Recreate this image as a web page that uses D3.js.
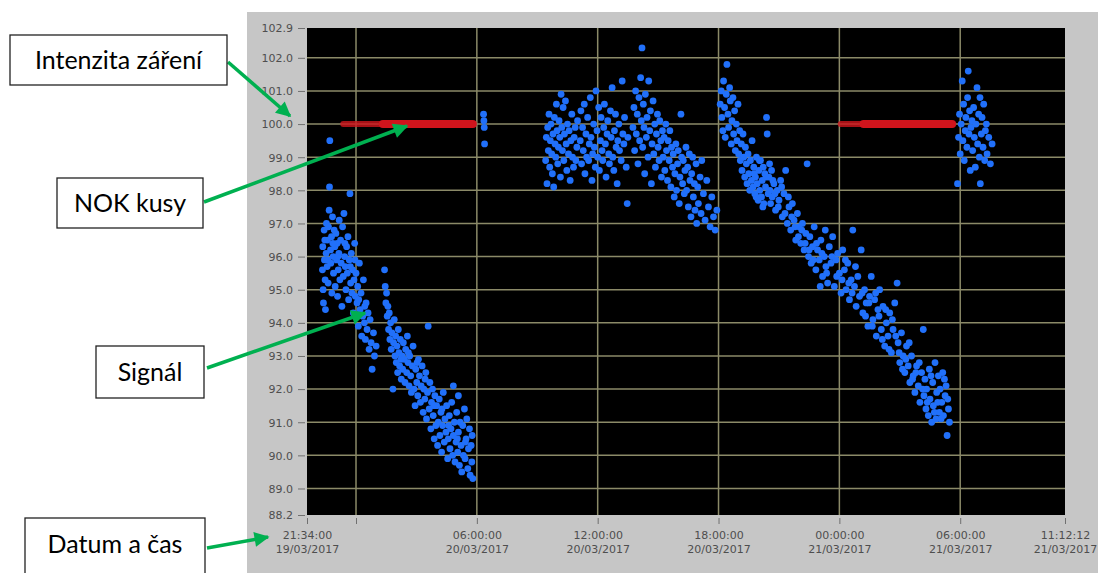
<!DOCTYPE html>
<html>
<head>
<meta charset="utf-8">
<script src="https://cdn.jsdelivr.net/npm/d3@7"></script>
<style>
  body { margin: 0; background: #fff; }
  svg { display: block; }
  .tick text { font-family: "DejaVu Sans", Verdana, sans-serif; font-size: 11px; fill: #4e4e4e; }
  .tick line { stroke: #707070; }
  .domain { display: none; }
  .note text { font-family: Lato, "Open Sans", sans-serif; font-size: 25px; fill: #000; }
</style>
</head>
<body>
<div id="chart"></div>
<script>
// signal readings, "dd HH:MM" in 03/2017, value
var night19 = [
  ["19 22:20",95.6],["19 22:21",96.3],["19 22:22",95.0],["19 22:23",94.6],["19 22:25",96.8],["19 22:26",95.9],
  ["19 22:28",95.3],["19 22:29",94.4],["19 22:31",96.1],["19 22:32",97.0],["19 22:34",95.7],["19 22:35",96.5],
  ["19 22:37",95.2],["19 22:38",96.9],["19 22:40",97.4],["19 22:41",98.1],["19 22:42",99.5],["19 22:44",96.2],
  ["19 22:45",95.8],["19 22:47",96.6],["19 22:48",94.9],["19 22:50",97.2],["19 22:52",96.0],["19 22:53",95.5],
  ["19 22:55",96.8],["19 22:57",96.3],["19 22:58",95.1],["19 23:00",96.7],["19 23:02",95.9],["19 23:04",96.4],
  ["19 23:05",94.8],["19 23:07",95.6],["19 23:09",96.1],["19 23:10",97.1],["19 23:12",95.3],["19 23:14",96.5],
  ["19 23:16",95.8],["19 23:18",94.5],["19 23:20",96.9],["19 23:22",95.4],["19 23:24",97.3],["19 23:26",96.0],
  ["19 23:28",95.7],["19 23:30",95.0],["19 23:32",96.3],["19 23:34",95.5],["19 23:36",96.6],["19 23:38",94.7],
  ["19 23:40",95.9],["19 23:42",97.9],["19 23:44",95.2],["19 23:46",96.1],["19 23:48",94.9],["19 23:50",95.6],
  ["19 23:52",94.3],["19 23:54",95.3],["19 23:56",96.4],["19 23:58",94.8],
  ["19 22:27",96.5],["19 22:36",95.9],["19 22:51",96.4],["19 23:06",96.0],["19 23:27",96.4],["19 23:43",95.7],
  ["19 23:57",95.9],
  ["20 00:00",95.5],["20 00:03",94.6],["20 00:05",95.1],["20 00:07",93.9],["20 00:10",95.8],["20 00:12",94.4],
  ["20 00:15",94.9],["20 00:17",93.6],["20 00:20",94.2],["20 00:22",95.3],["20 00:25",94.0],["20 00:28",93.5],
  ["20 00:30",94.6],["20 00:33",93.8],["20 00:36",94.3],["20 00:39",93.2],["20 00:42",94.1],["20 00:45",93.4],
  ["20 00:48",92.6],["20 00:52",93.7],["20 00:55",93.0],["20 01:00",93.3],["20 00:08",94.7],["20 00:26",94.5]
];
var night20 = [
  ["20 01:25",95.6],["20 01:27",95.1],["20 01:29",94.6],["20 01:31",94.9],["20 01:33",94.2],["20 01:35",94.5],
  ["20 01:37",93.8],["20 01:39",94.3],["20 01:41",93.5],["20 01:43",94.0],["20 01:45",93.2],["20 01:47",93.7],
  ["20 01:50",92.0],["20 01:52",93.4],["20 01:54",94.1],["20 01:56",93.0],["20 01:58",93.6],["20 02:00",92.8],
  ["20 02:02",93.3],["20 02:04",92.5],["20 02:06",93.8],["20 02:08",93.1],["20 02:10",92.7],["20 02:12",93.5],
  ["20 02:15",92.3],["20 02:17",93.0],["20 02:19",92.6],["20 02:21",93.4],["20 02:24",92.9],["20 02:26",92.2],
  ["20 02:28",93.2],["20 02:31",92.5],["20 02:33",93.6],["20 02:35",92.8],["20 02:38",92.1],["20 02:40",93.0],
  ["20 02:43",92.4],["20 02:45",91.9],["20 02:48",92.7],["20 02:50",93.3],["20 02:53",92.0],["20 02:56",91.5],
  ["20 02:58",92.6],["20 03:01",92.2],["20 03:04",91.8],["20 03:06",92.9],["20 03:09",92.4],["20 03:12",91.6],
  ["20 03:14",92.1],["20 03:17",92.7],["20 03:20",91.3],["20 03:22",92.0],["20 03:25",91.7],["20 03:28",92.5],
  ["20 03:30",91.1],["20 03:33",91.9],["20 03:35",93.9],["20 03:38",91.4],["20 03:40",92.2],["20 03:43",90.8],
  ["20 03:45",91.6],["20 03:48",92.0],["20 03:50",91.2],["20 03:53",90.5],["20 03:55",91.8],["20 03:58",90.9],
  ["20 04:00",91.5],["20 04:03",90.3],["20 04:05",91.0],["20 04:08",91.7],["20 04:10",90.6],["20 04:13",91.3],
  ["20 04:15",90.1],["20 04:18",90.9],["20 04:20",91.9],["20 04:23",90.4],["20 04:25",91.1],["20 04:28",90.7],
  ["20 04:30",91.5],["20 04:33",89.9],["20 04:35",90.5],["20 04:38",91.2],["20 04:40",90.2],["20 04:43",90.8],
  ["20 04:45",91.6],["20 04:48",90.0],["20 04:50",90.6],["20 04:53",91.0],["20 04:55",89.8],["20 04:58",90.4],
  ["20 05:00",91.3],["20 05:03",90.1],["20 05:05",90.7],["20 05:08",89.7],["20 05:10",91.0],["20 05:13",90.3],
  ["20 05:15",89.5],["20 05:18",90.9],["20 05:20",90.0],["20 05:23",91.4],["20 05:25",89.9],["20 05:28",90.5],
  ["20 05:30",91.1],["20 05:33",89.6],["20 05:35",90.2],["20 05:38",90.8],["20 05:40",89.4],["20 05:43",90.3],
  ["20 05:45",89.8],["20 05:48",89.3],["20 04:50",92.1],["20 05:05",91.8],
  ["20 02:14",92.9],["20 02:36",93.1],["20 03:02",92.8],["20 03:26",92.3],["20 03:52",91.5],["20 04:16",91.4],
  ["20 04:36",90.9],["20 05:02",90.5],["20 05:26",90.4],["20 05:46",90.6]
];
var morning20 = [["20 06:20",100.3],["20 06:21",100.1],["20 06:22",99.9],["20 06:23",99.4]];
var day20 = [
  ["20 09:25",98.9],["20 09:27",99.6],["20 09:29",98.2],["20 09:31",99.9],["20 09:33",99.2],["20 09:35",100.3],
  ["20 09:37",98.7],["20 09:39",99.5],["20 09:41",100.0],["20 09:43",99.1],["20 09:45",98.5],["20 09:47",99.7],
  ["20 09:49",98.1],["20 09:51",100.2],["20 09:53",99.4],["20 09:55",99.0],["20 09:57",100.6],["20 09:59",99.8],
  ["20 10:01",98.8],["20 10:03",99.3],["20 10:05",100.1],["20 10:07",99.6],["20 10:09",98.4],["20 10:11",100.9],
  ["20 10:13",99.9],["20 10:15",99.2],["20 10:17",100.5],["20 10:19",98.9],["20 10:21",99.7],["20 10:24",100.7],
  ["20 10:26",99.4],["20 10:28",98.6],["20 10:30",100.0],["20 10:33",99.1],["20 10:35",99.8],["20 10:38",98.3],
  ["20 10:40",99.5],["20 10:43",100.3],["20 10:45",99.0],["20 10:48",98.7],["20 10:50",99.6],["20 10:53",99.9],
  ["20 10:55",98.9],["20 10:58",99.3],["20 11:00",100.1],
  ["20 11:08",99.5],["20 11:10",100.4],["20 11:12",98.8],["20 11:15",99.9],["20 11:17",99.2],["20 11:20",100.6],
  ["20 11:22",98.5],["20 11:25",99.7],["20 11:27",99.0],["20 11:30",100.2],["20 11:33",98.9],["20 11:35",99.4],
  ["20 11:38",100.8],["20 11:40",99.6],["20 11:43",98.3],["20 11:45",99.1],["20 11:48",100.0],["20 11:50",99.3],
  ["20 11:53",98.7],["20 11:55",101.0],["20 11:58",99.8],["20 12:00",99.0],["20 12:03",100.5],["20 12:05",98.6],
  ["20 12:08",99.5],["20 12:10",100.2],["20 12:13",99.2],["20 12:15",98.9],["20 12:18",99.9],["20 12:20",100.6],
  ["20 12:23",99.4],["20 12:25",98.4],["20 12:28",99.7],["20 12:30",100.1],["20 12:33",99.1],["20 12:35",98.8],
  ["20 12:38",100.4],["20 12:40",99.6],["20 12:43",101.1],["20 12:45",99.0],["20 12:48",98.6],["20 12:50",99.8],
  ["20 12:53",100.3],["20 12:55",99.3],["20 12:58",98.2],["20 13:00",99.5],["20 13:03",100.0],["20 13:05",99.2],
  ["20 13:10",98.9],["20 13:13",101.3],["20 13:15",99.7],["20 13:18",99.4],["20 13:20",100.2],["20 13:25",98.7],
  ["20 13:28",97.6],["20 13:30",99.6],
  ["20 13:45",99.9],["20 13:48",100.5],["20 13:50",99.2],["20 13:53",101.0],["20 13:55",99.7],["20 13:58",100.3],
  ["20 14:00",98.8],["20 14:03",100.8],["20 14:05",99.5],["20 14:08",101.4],["20 14:10",100.1],["20 14:12",102.3],
  ["20 14:14",99.3],["20 14:16",100.6],["20 14:18",99.9],["20 14:20",98.5],["20 14:22",100.9],["20 14:25",99.6],
  ["20 14:27",100.2],["20 14:30",99.0],["20 14:32",101.3],["20 14:35",99.8],["20 14:37",100.4],["20 14:40",98.2],
  ["20 14:42",99.4],["20 14:45",100.7],["20 14:47",99.1],["20 14:50",100.0],["20 14:52",98.7],["20 14:55",99.7],
  ["20 14:58",100.3],["20 15:00",99.3],["20 15:03",98.9],["20 15:05",100.1],["20 15:08",99.5],["20 15:10",98.4],
  ["20 15:13",99.8],
  ["20 15:15",99.0],["20 15:18",99.6],["20 15:20",98.6],["20 15:23",100.0],["20 15:25",99.2],["20 15:28",98.3],
  ["20 15:30",99.5],["20 15:33",98.9],["20 15:35",99.8],["20 15:38",98.1],["20 15:40",99.3],["20 15:43",98.7],
  ["20 15:45",99.1],["20 15:48",97.8],["20 15:50",98.5],["20 15:53",99.4],["20 15:55",98.0],["20 15:58",98.8],
  ["20 16:00",99.2],["20 16:03",97.6],["20 16:05",98.4],["20 16:08",100.3],["20 16:10",99.0],["20 16:13",98.2],
  ["20 16:15",98.9],["20 16:18",97.9],["20 16:20",98.6],["20 16:23",99.3],["20 16:25",98.0],["20 16:28",98.7],
  ["20 16:30",97.5],["20 16:33",99.1],["20 16:35",98.3],["20 16:38",97.2],["20 16:40",98.5],["20 16:43",99.0],
  ["20 16:45",97.8],["20 16:48",98.2],["20 16:50",97.4],["20 16:53",98.8],["20 16:55",97.0],["20 16:58",98.1],
  ["20 17:00",97.6],["20 17:05",98.4],["20 17:08",97.3],["20 17:10",98.9],["20 17:15",97.9],["20 17:20",97.1],
  ["20 17:25",98.3],["20 17:30",97.5],["20 17:35",96.9],["20 17:40",97.8],["20 17:45",97.2],["20 17:50",96.8],
  ["20 17:55",97.4]
];
var evening20 = [
  ["20 18:05",100.6],["20 18:08",101.0],["20 18:10",100.2],["20 18:13",99.8],["20 18:15",101.3],["20 18:18",100.5],
  ["20 18:20",99.6],["20 18:23",100.9],["20 18:25",101.8],["20 18:28",100.3],["20 18:30",99.9],["20 18:33",101.1],
  ["20 18:35",100.7],["20 18:38",99.4],["20 18:40",100.1],["20 18:43",100.8],["20 18:45",99.7],["20 18:48",100.4],
  ["20 18:50",99.2],["20 18:53",100.0],["20 18:55",99.5],["20 18:58",100.6],["20 19:00",99.1],["20 19:03",99.8],
  ["20 19:05",98.9],["20 19:08",99.4],["20 19:10",98.6],["20 19:13",99.7],["20 19:15",99.0],["20 19:18",98.4],
  ["20 19:20",99.3],["20 19:23",98.8],["20 19:25",98.2],["20 19:28",99.1],["20 19:30",98.5],["20 19:33",98.0],
  ["20 19:35",98.9],["20 19:38",98.3],["20 19:40",99.5],
  ["20 19:43",98.1],["20 19:45",98.7],["20 19:48",97.9],["20 19:50",98.4],["20 19:53",99.0],["20 19:55",98.2],
  ["20 19:58",97.7],["20 20:00",98.6],["20 20:03",98.0],["20 20:05",98.9],["20 20:08",97.8],["20 20:10",98.3],
  ["20 20:13",98.7],["20 20:15",97.6],["20 20:18",98.5],["20 20:20",98.1],["20 20:23",100.2],["20 20:25",99.7],
  ["20 20:28",97.9],["20 20:30",98.4],["20 20:33",98.0],["20 20:35",97.6],["20 20:38",98.6],["20 20:40",97.8],
  ["20 20:45",98.2],["20 20:50",97.4],["20 20:55",98.0],["20 21:00",97.7],["20 21:05",98.3],["20 21:10",97.2],
  ["20 21:15",97.9],["20 21:20",98.6],["20 21:25",97.0],["20 21:30",97.5],
  ["20 21:35",96.8],["20 21:40",97.6],["20 21:45",97.1],["20 21:50",96.5],["20 21:55",97.3],["20 22:00",96.9],
  ["20 22:05",96.4],["20 22:10",97.0],["20 22:15",96.2],["20 22:20",96.7],["20 22:24",98.8],["20 22:28",96.0],
  ["20 22:32",96.6],["20 22:36",95.8],["20 22:40",96.3],
  ["20 22:45",96.9],["20 22:50",95.6],["20 22:55",96.2],["20 23:00",95.9],["20 23:03",95.1],["20 23:05",96.5],
  ["20 23:10",95.4],["20 23:15",96.0],["20 23:18",96.8],["20 23:20",95.7],["20 23:25",95.2],["20 23:30",96.3],
  ["20 23:35",95.8],["20 23:40",96.6],["20 23:45",95.1],["20 23:50",95.9],["20 23:55",96.1],
  ["20 19:46",98.5],["20 19:52",97.8],["20 20:02",98.9],["20 20:12",97.5],["20 20:22",98.4],["20 20:32",98.8],
  ["20 20:42",98.3],["20 20:48",97.9],["20 20:58",97.5],["20 21:08",98.1],["20 21:18",97.3],["20 21:28",97.8],
  ["20 21:38",97.2],["20 21:48",96.9],["20 21:58",96.6],["20 22:08",96.8],["20 22:18",96.4],["20 22:30",96.2],
  ["20 22:42",95.9],["20 22:52",96.4],["20 23:08",96.1],["20 23:22",95.5],["20 23:38",96.0],["20 23:52",95.4]
];
var night21 = [
  ["21 00:00",95.5],["21 00:05",94.9],["21 00:10",96.2],["21 00:15",95.6],["21 00:20",95.0],["21 00:25",95.8],
  ["21 00:30",94.7],["21 00:35",95.3],["21 00:40",96.8],["21 00:45",95.1],["21 00:50",94.5],["21 00:55",95.4],
  ["21 01:00",94.8],["21 01:05",96.2],
  ["21 01:10",94.3],["21 01:15",95.0],["21 01:20",94.6],["21 01:25",93.9],["21 01:30",94.8],["21 01:35",95.4],
  ["21 01:40",94.1],["21 01:45",94.7],["21 01:50",93.6],["21 01:55",94.4],["21 02:00",95.0],["21 02:05",93.8],
  ["21 02:10",94.5],["21 02:15",93.3],["21 02:20",94.0],["21 02:25",93.6],["21 02:30",94.3],["21 02:35",93.1],
  ["21 02:40",93.8],["21 02:45",94.6],["21 02:52",95.2],
  ["21 02:55",93.4],["21 03:00",92.8],["21 03:05",93.7],["21 03:10",93.0],["21 03:15",92.5],["21 03:20",93.3],
  ["21 03:25",92.7],["21 03:30",92.2],["21 03:35",93.0],["21 03:40",92.4],["21 03:45",91.9],["21 03:50",92.7],
  ["21 03:55",92.1],["21 04:00",91.6],["21 04:05",92.5],["21 04:10",93.8],["21 04:12",91.8],
  ["21 04:15",92.3],["21 04:18",91.4],["21 04:20",92.0],["21 04:25",91.2],["21 04:28",92.6],["21 04:30",91.7],
  ["21 04:35",91.0],["21 04:38",92.2],["21 04:40",91.5],["21 04:45",92.8],["21 04:48",91.1],["21 04:50",91.9],
  ["21 04:55",92.4],["21 04:58",91.3],["21 05:00",92.0],["21 05:05",91.6],["21 05:08",92.5],["21 05:10",91.2],
  ["21 05:15",91.8],["21 05:18",92.1],["21 05:21",90.6],["21 05:25",91.4],
  ["21 00:08",95.3],["21 00:18",95.9],["21 00:28",95.2],["21 00:38",94.9],["21 00:48",95.7],["21 01:08",94.9],
  ["21 01:18",94.2],["21 01:28",94.6],["21 01:38",93.9],["21 01:48",94.9],["21 01:58",94.2],["21 02:08",93.5],
  ["21 02:18",94.4],["21 02:28",93.2],["21 02:38",94.1],["21 02:48",93.6],["21 02:58",93.1],["21 03:08",92.6],
  ["21 03:18",92.9],["21 03:28",93.4],["21 03:38",92.3],["21 03:48",92.5],["21 03:58",92.8],["21 04:08",92.0],
  ["21 04:22",91.6],["21 04:33",92.4],["21 04:43",91.3],["21 04:53",91.6],["21 05:03",91.1],["21 05:13",92.3],
  ["21 05:23",91.7],["21 05:28",91.0]
];
var morning21 = [
  ["21 05:52",98.2],["21 05:55",99.6],["21 05:58",100.3],["21 06:00",99.1],["21 06:03",100.0],["21 06:06",101.3],
  ["21 06:08",99.5],["21 06:10",100.6],["21 06:12",98.9],["21 06:15",99.8],["21 06:17",100.2],["21 06:20",99.3],
  ["21 06:22",100.8],["21 06:24",101.6],["21 06:26",99.7],["21 06:28",100.4],["21 06:30",98.6],["21 06:32",99.9],
  ["21 06:35",100.1],["21 06:37",99.2],["21 06:40",100.5],["21 06:42",99.6],["21 06:45",98.7],["21 06:47",100.0],
  ["21 06:50",101.1],["21 06:52",99.4],["21 06:55",100.3],["21 06:57",99.0],["21 06:59",100.8],["21 07:00",98.2],
  ["21 07:03",99.7],["21 07:05",100.2],["21 07:08",99.3],["21 07:10",100.6],["21 07:13",98.9],["21 07:15",99.8],
  ["21 07:18",100.0],["21 07:20",99.1],["21 07:25",99.6],["21 07:30",98.8],["21 07:35",99.4]
];
// NOK pieces at the 100.0 level: [from, to]
var nokRuns = [["19 23:22","20 01:10"],["20 01:20","20 05:48"],["21 00:04","21 01:08"],["21 01:12","21 05:36"]];
var nokLevel = 100.0;

var yTicks = [88.2, 89, 90, 91, 92, 93, 94, 95, 96, 97, 98, 99, 100, 101, 102, 102.9];
var xTicks = ["19/03/2017 21:34:00", "20/03/2017 00:00:00", "20/03/2017 06:00:00", "20/03/2017 12:00:00",
  "20/03/2017 18:00:00", "21/03/2017 00:00:00", "21/03/2017 06:00:00", "21/03/2017 11:12:12"];
var xTickShown = [true, false, true, true, true, true, true, true];

var notes = [
  {text: "Intenzita záření", box: [10, 35, 217, 50], from: [228, 62], to: [290, 116]},
  {text: "NOK kusy", box: [57, 178, 146, 50], from: [204, 202], to: [407, 126]},
  {text: "Signál", box: [96, 346, 108, 52], from: [207, 368], to: [365, 313]},
  {text: "Datum a čas", box: [25, 518, 180, 60], from: [207, 548], to: [268, 537]}
];

var width = 1098, height = 573;
var plot = {left: 307, right: 1065, top: 28, bottom: 515};

var parseFull = d3.timeParse("%d/%m/%Y %H:%M:%S");
function toDate(s) {
  return parseFull(s.slice(0, 2) + "/03/2017 " + s.slice(3) + ":00");
}

var x = d3.scaleTime()
  .domain([parseFull(xTicks[0]), parseFull(xTicks[xTicks.length - 1])])
  .range([plot.left, plot.right]);
var y = d3.scaleLinear()
  .domain([88.2, 102.9])
  .range([plot.bottom, plot.top]);

var svg = d3.select("#chart").append("svg")
  .attr("width", width)
  .attr("height", height);

svg.append("rect")
  .attr("x", 247).attr("y", 12)
  .attr("width", width - 247).attr("height", height - 12)
  .attr("fill", "#c6c6c6");

svg.append("rect")
  .attr("x", plot.left).attr("y", plot.top)
  .attr("width", plot.right - plot.left).attr("height", plot.bottom - plot.top)
  .attr("fill", "#000");

// grid
var gridG = svg.append("g").attr("class", "grid");
gridG.selectAll("line.h")
  .data(yTicks.slice(1, -1))
  .enter().append("line")
    .attr("class", "h")
    .attr("x1", plot.left).attr("x2", plot.right)
    .attr("y1", function (d) { return y(d); })
    .attr("y2", function (d) { return y(d); })
    .attr("stroke", "#8b8a68").attr("stroke-width", 1.5);
gridG.selectAll("line.v")
  .data(xTicks.slice(1, -1))
  .enter().append("line")
    .attr("class", "v")
    .attr("y1", plot.top).attr("y2", plot.bottom)
    .attr("x1", function (d) { return x(parseFull(d)); })
    .attr("x2", function (d) { return x(parseFull(d)); })
    .attr("stroke", "#8b8a68").attr("stroke-width", 1.5);

// NOK runs
var nokLine = d3.line()
  .x(function (d) { return x(toDate(d)); })
  .y(function () { return y(nokLevel); });
svg.append("g").selectAll("path.nok")
  .data(nokRuns)
  .enter().append("path")
    .attr("class", "nok")
    .attr("d", nokLine)
    .attr("stroke", "#d0141c")
    .attr("stroke-width", function (d, i) { return i % 2 ? 8 : 6; })
    .attr("stroke-opacity", function (d, i) { return i % 2 ? 1 : 0.8; })
    .attr("stroke-linecap", "round")
    .attr("fill", "none");

// signal
var signal = [].concat(night19, night20, morning20, day20, evening20, night21, morning21);
svg.append("g").selectAll("circle")
  .data(signal)
  .enter().append("circle")
    .attr("cx", function (d) { return x(toDate(d[0])); })
    .attr("cy", function (d) { return y(d[1]); })
    .attr("r", 3.4)
    .attr("fill", "#2170fa");

// axes
var yAxis = d3.axisLeft(y)
  .tickValues(yTicks)
  .tickSize(7)
  .tickPadding(5)
  .tickFormat(d3.format(".1f"));
svg.append("g")
  .attr("class", "y axis")
  .attr("transform", "translate(" + (plot.left - 2) + ",0)")
  .call(yAxis)
  .selectAll(".tick text").attr("dy", "0.35em");

var xAxis = d3.axisBottom(x)
  .tickValues(xTicks.map(parseFull))
  .tickSize(6)
  .tickFormat("");
var xG = svg.append("g")
  .attr("class", "x axis")
  .attr("transform", "translate(0," + (plot.bottom + 3) + ")")
  .call(xAxis);
var fmtTime = d3.timeFormat("%H:%M:%S"), fmtDate = d3.timeFormat("%d/%m/%Y");
xG.selectAll(".tick").each(function (d, i) {
  if (!xTickShown[i]) return;
  var t = d3.select(this).append("text")
    .attr("text-anchor", "middle")
    .attr("y", 21);
  t.append("tspan").attr("x", 0).text(fmtTime(d));
  t.append("tspan").attr("x", 0).attr("dy", 14).text(fmtDate(d));
});

// annotations
svg.append("defs").append("marker")
  .attr("id", "head")
  .attr("markerUnits", "userSpaceOnUse")
  .attr("viewBox", "0 0 10 10")
  .attr("refX", 9).attr("refY", 5)
  .attr("markerWidth", 17).attr("markerHeight", 15)
  .attr("orient", "auto")
  .append("path")
    .attr("d", "M0,0L10,5L0,10Z")
    .attr("fill", "#00b050");

var noteG = svg.append("g").attr("class", "note").selectAll("g")
  .data(notes)
  .enter().append("g");
noteG.append("line")
  .attr("x1", function (d) { return d.from[0]; })
  .attr("y1", function (d) { return d.from[1]; })
  .attr("x2", function (d) { return d.to[0]; })
  .attr("y2", function (d) { return d.to[1]; })
  .attr("stroke", "#00b050")
  .attr("stroke-width", 3.5)
  .attr("marker-end", "url(#head)");
noteG.append("rect")
  .attr("x", function (d) { return d.box[0]; })
  .attr("y", function (d) { return d.box[1]; })
  .attr("width", function (d) { return d.box[2]; })
  .attr("height", function (d) { return d.box[3]; })
  .attr("fill", "#fff")
  .attr("stroke", "#222")
  .attr("stroke-width", 1.3);
noteG.append("text")
  .attr("x", function (d) { return d.box[0] + d.box[2] / 2; })
  .attr("y", function (d) { return d.box[1] + Math.min(d.box[3], 52) / 2; })
  .attr("dy", "0.35em")
  .attr("text-anchor", "middle")
  .text(function (d) { return d.text; });
</script>
</body>
</html>
